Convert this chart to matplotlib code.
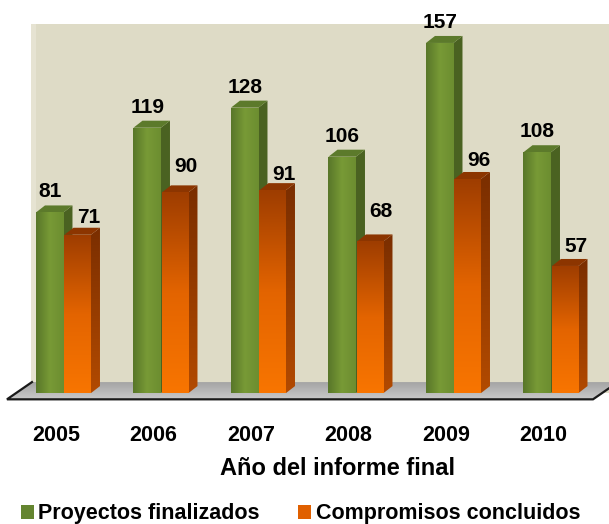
import matplotlib
matplotlib.use("Agg")
import matplotlib.pyplot as plt
import numpy as np
from matplotlib.patches import Polygon, Patch
from matplotlib.colors import LinearSegmentedColormap

# Datos
anios = ["2005", "2006", "2007", "2008", "2009", "2010"]
proyectos = [81, 119, 128, 106, 157, 108]
compromisos = [71, 90, 91, 68, 96, 57]
serie_nombres = ["Proyectos finalizados", "Compromisos concluidos"]

plt.rcParams['font.family'] = ['Liberation Sans', 'DejaVu Sans']
plt.rcParams['font.weight'] = 'bold'

fig = plt.figure(figsize=(6.09, 5.24), dpi=100)
ax = fig.add_axes([0, 124 / 524, 1, 376 / 524])

# escala: 97.5 px por grupo, 2.23 px por unidad
px_x = 97.5
px_y = 2.23
x0, x1 = -0.651, 5.595
y0, y1 = -3.1, 165.5
ax.set_xlim(x0, x1)
ax.set_ylim(y0, y1)

w = 27.5 / px_x       # ancho de barra
dx = 9 / px_x         # profundidad
dy = 7 / px_y
gap = 1 / px_x


def grad(patch, colors, vertical, z):
    cmap = LinearSegmentedColormap.from_list("g", colors)
    if vertical:
        img = np.linspace(0, 1, 128).reshape(-1, 1)
    else:
        img = np.linspace(0, 1, 128).reshape(1, -1)
    xy = patch.get_path().transformed(patch.get_patch_transform()).vertices if hasattr(patch, "get_patch_transform") else patch.get_xy()
    xs, ys = xy[:, 0], xy[:, 1]
    im = ax.imshow(img, cmap=cmap, extent=(xs.min(), xs.max(), ys.min(), ys.max()),
                   origin="lower", aspect="auto", interpolation="bilinear", zorder=z)
    im.set_clip_path(patch)


# pared del fondo
wall_left = (31 - 63.5) / px_x
back_y = (393 - 382) / px_y
ax.add_patch(Polygon([(wall_left, 0), (x1 + 0.1, 0), (x1 + 0.1, y1 + 5), (wall_left, y1 + 5)],
                     closed=True, facecolor="#DEDBC6", edgecolor="none", zorder=0))
ax.add_patch(Polygon([(wall_left, 0), (wall_left + 5 / px_x, 0), (wall_left + 5 / px_x, y1 + 5), (wall_left, y1 + 5)],
                     closed=True, facecolor="#E6E3D2", edgecolor="none", zorder=0.5))

# suelo
fl = (7 - 63.5) / px_x
fr = (593 - 63.5) / px_x
fdx = 25 / px_x
suelo = Polygon([(fl + fdx, back_y), (fr + fdx, back_y), (fr, y0 + 0.3), (fl, y0 + 0.3)],
                closed=True, facecolor="none", edgecolor="none", zorder=1)
ax.add_patch(suelo)
grad(suelo, ["#C9C9C9", "#A2A2A2"], True, 1)
ax.plot([fl + fdx, fl, fr, fr + fdx], [back_y, y0 + 0.3, y0 + 0.3, back_y],
        color="#1A1A1A", lw=1.6, zorder=2, solid_joinstyle="miter", clip_on=False)

x = np.arange(len(anios))

# Barras verdes
verdes = ax.bar(x - w, proyectos, w, align="edge", bottom=0, color="none", zorder=3)
for b, v in zip(verdes, proyectos):
    l, r = b.get_x(), b.get_x() + b.get_width()
    ax.add_patch(Polygon([(r, 0), (r + dx, dy), (r + dx, v + dy), (r, v)],
                         closed=True, facecolor="#4A6221", edgecolor="none", zorder=3))
    ax.add_patch(Polygon([(l, v), (l + dx, v + dy), (r + dx, v + dy), (r, v)],
                         closed=True, facecolor="#5C7A2B", edgecolor="none", zorder=3))
    grad(b, ["#587629", "#789A36", "#6C8D30"], False, 3.5)
    ax.text((l + r) / 2, v + 15 / px_y, str(v), ha="center", va="baseline",
            fontsize=15, fontweight="bold", zorder=6)

# Barras naranjas
off_nar = [12, 20, 10, 24, 13, 14]
naranjas = ax.bar(x + gap, compromisos, w - gap, align="edge", bottom=0, color="none", zorder=4)
for b, v, o in zip(naranjas, compromisos, off_nar):
    l, r = b.get_x(), b.get_x() + b.get_width()
    lado = Polygon([(r, 0), (r + dx, dy), (r + dx, v + dy), (r, v)],
                   closed=True, facecolor="none", edgecolor="none", zorder=4)
    ax.add_patch(lado)
    grad(lado, ["#B24A00", "#7A2E00"], True, 4)
    ax.add_patch(Polygon([(l, v), (l + dx, v + dy), (r + dx, v + dy), (r, v)],
                         closed=True, facecolor="#8C3500", edgecolor="none", zorder=4.2))
    grad(b, ["#F87500", "#E36400", "#9E3D00"], True, 4.5)
    ax.text((l + r) / 2 + 11 / px_x, v + o / px_y, str(v), ha="center", va="baseline",
            fontsize=15, fontweight="bold", zorder=6)

# ejes
for s in ax.spines.values():
    s.set_visible(False)
ax.set_yticks([])
ax.set_xticks(x - 7.5 / px_x)
ax.set_xticklabels(anios, fontsize=15.5, fontweight="bold")
ax.tick_params(axis="x", length=0, pad=18)
ax.set_xlabel("Año del informe final", fontsize=17, fontweight="bold")
ax.xaxis.set_label_coords((337 / 609), -57 / 376)

handles = [Patch(facecolor="#648530", edgecolor="none"),
           Patch(facecolor="#E06000", edgecolor="none")]
fig.legend(handles, serie_nombres, loc="center left", bbox_to_anchor=(21 / 609, 1 - 514 / 524),
           ncol=2, frameon=False, prop={"size": 15.5, "weight": "bold"},
           handlelength=0.6, handleheight=0.6, handletextpad=0.2, columnspacing=1.8,
           borderaxespad=0, borderpad=0)

fig.savefig("out.png", dpi=100)
